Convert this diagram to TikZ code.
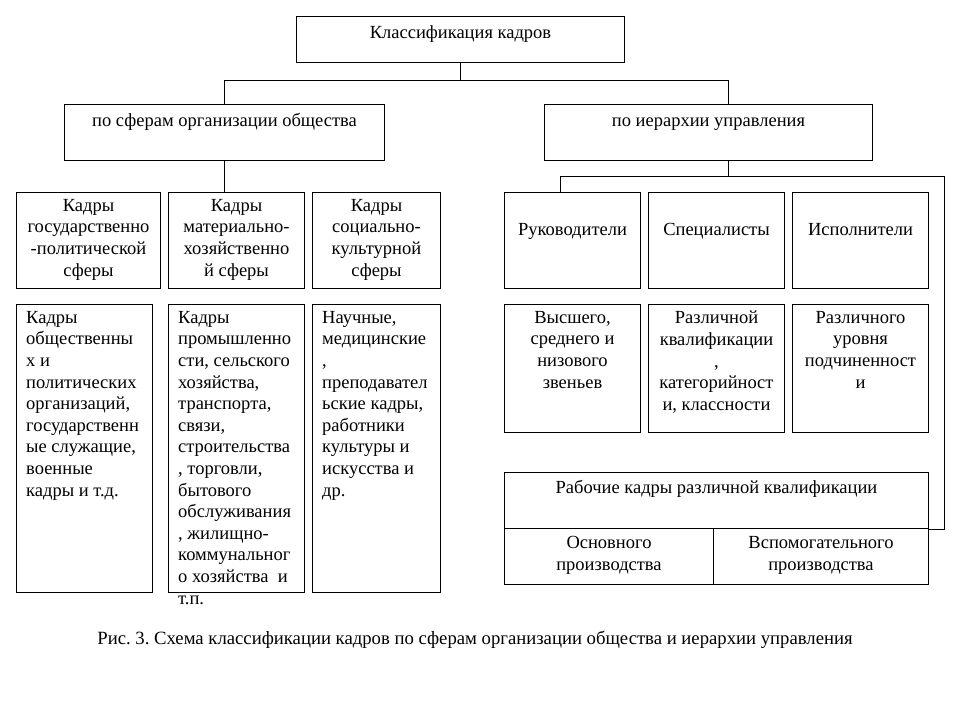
\documentclass[tikz,border=0pt]{standalone}
\usepackage{fontspec}
\setmainfont{Liberation Serif}
\frenchspacing
\begin{document}
\begin{tikzpicture}[x=1pt,y=-1pt,
  box/.style={draw, line width=1pt, inner sep=0pt, anchor=north west},
  txt/.style={inner sep=0pt, font=\fontsize{18.5}{21.6}\selectfont, align=center, anchor=north, execute at begin node=\strut},
  ltxt/.style={txt, align=left, anchor=north west},
  conn/.style={line width=1pt}]
\newcommand\mybox[5]{\node[box, minimum width={#4-#2}, minimum height={#5-#3}] (#1) at (#2,#3) {};}
\useasboundingbox (0,0) rectangle (969,705);
\fill[white] (0,0) rectangle (969,705);
% boxes
\mybox{top}{296}{16}{624}{62}
\mybox{sfer}{64}{104}{384}{160}
\mybox{hier}{544}{104}{872}{160}
\mybox{gos}{16}{192}{160}{288}
\mybox{mat}{168}{192}{304}{288}
\mybox{soc}{312}{192}{440}{288}
\mybox{ruk}{504}{192}{640}{288}
\mybox{spec}{648}{192}{784}{288}
\mybox{isp}{792}{192}{928}{288}
\mybox{gosd}{16}{304}{152}{592}
\mybox{matd}{168}{304}{304}{592}
\mybox{socd}{312}{304}{440}{592}
\mybox{rukd}{504}{304}{640}{432}
\mybox{specd}{648}{304}{784}{432}
\mybox{ispd}{792}{304}{928}{432}
\mybox{rab}{504}{472}{928}{528}
\mybox{osn}{504}{528}{713}{584}
\mybox{vsp}{713}{528}{928}{584}
% texts
\node[txt] (topt) at ([yshift=-7pt]top.north) {Классификация кадров};
\node[txt] (sfert) at ([yshift=-7pt]sfer.north) {по сферам организации общества};
\node[txt] (hiert) at ([yshift=-7pt]hier.north) {по иерархии управления};
\node[txt] (gost) at ([yshift=-7pt]gos.north) {Кадры\\государственно\\-политической\\сферы};
\node[txt] (matt) at ([yshift=-7pt]mat.north) {Кадры\\материально-\\хозяйственно\\й сферы};
\node[txt] (soct) at ([yshift=-7pt]soc.north) {Кадры\\социально-\\культурной\\сферы};
\node[txt] (rukt) at ([yshift=-28pt]ruk.north) {Руководители};
\node[txt] (spect) at ([yshift=-28pt]spec.north) {Специалисты};
\node[txt] (ispt) at ([yshift=-28pt]isp.north) {Исполнители};
\node[ltxt] (gosdt) at ([xshift=10pt,yshift=-7pt]gosd.north west) {Кадры\\общественны\\х и\\политических\\организаций,\\государственн\\ые служащие,\\военные\\кадры и т.д.};
\node[ltxt] (matdt) at ([xshift=10pt,yshift=-7pt]matd.north west) {Кадры\\промышленно\\сти, сельского\\хозяйства,\\транспорта,\\связи,\\строительства\\, торговли,\\бытового\\обслуживания\\, жилищно-\\коммунальног\\о хозяйства\ \ и\\т.п.};
\node[ltxt] (socdt) at ([xshift=10pt,yshift=-7pt]socd.north west) {Научные,\\медицинские\\,\\преподавател\\ьские кадры,\\работники\\культуры и\\искусства и\\др.};
\node[txt] (rukdt) at ([yshift=-7pt]rukd.north) {Высшего,\\среднего и\\низового\\звеньев};
\node[txt] (specdt) at ([yshift=-7pt]specd.north) {Различной\\квалификации\\,\\категорийност\\и, классности};
\node[txt] (ispdt) at ([yshift=-7pt]ispd.north) {Различного\\уровня\\подчиненност\\и};
\node[txt] (rabt) at ([yshift=-6pt]rab.north) {Рабочие кадры различной квалификации};
\node[txt, font=\fontsize{18.5}{22.4}\selectfont] (osnt) at ([yshift=-8pt]osn.north) {Основного\\производства};
\node[txt, font=\fontsize{18.5}{22.4}\selectfont] (vspt) at ([yshift=-8pt]vsp.north) {Вспомогательного\\производства};
\node[txt, anchor=center, font=\fontsize{18.7}{21.6}\selectfont, execute at begin node={}] (cap) at (475,640) {Рис. 3. Схема классификации кадров по сферам организации общества и иерархии управления};
% connectors
\coordinate (bus1) at (0,80);
\coordinate (bus2) at (0,176);
\coordinate (hj) at ([xshift=20pt]hier.north);
\coordinate (hjs) at ([xshift=20pt]hier.south);
\coordinate (rj) at ([xshift=-12pt]ruk.north);
\coordinate (ej) at (944,176);
\draw[conn] (top.south) -- (top.south |- bus1);
\draw[conn] (sfer.north) -- (sfer.north |- bus1) -- (hj |- bus1) -- (hj);
\draw[conn] (sfer.south) -- (sfer.south |- mat.north);
\draw[conn] (hjs) -- (hjs |- bus2);
\draw[conn] (rj) -- (rj |- bus2) -- (ej) |- (rab.south east);
\end{tikzpicture}
\end{document}
